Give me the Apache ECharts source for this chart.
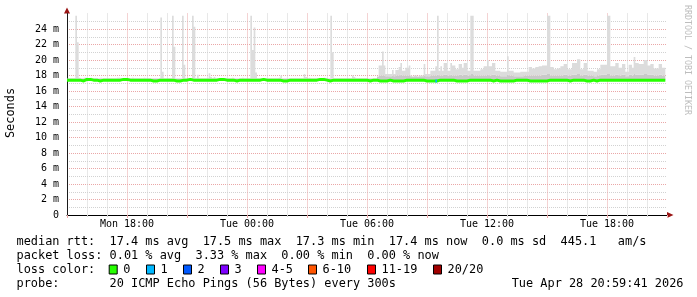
<!doctype html>
<html>
<head>
<meta charset="utf-8">
<title>smokeping</title>
<style>
html,body{margin:0;padding:0;background:#fff;}
#chart{width:697px;height:297px;}
</style>
<script src="https://cdn.jsdelivr.net/npm/echarts@6/dist/echarts.min.js"></script>
</head>
<body>
<div id="chart"></div>
<script>
// time axis in hours counted from Mon 00:00, one value every 300s
var startHour = 15, endHour = 45, stepsPerHour = 12;
var xLabelHours = [18, 24, 30, 36, 42];
var xLabelTexts = ['Mon 18:00', 'Tue 00:00', 'Tue 06:00', 'Tue 12:00', 'Tue 18:00'];

// median rtt (ms), one row per hour
var median = [
17.4,17.4,17.4,17.4,17.4,17.4,17.4,17.4,17.4,17.3,17.3,17.5,
17.5,17.5,17.4,17.4,17.4,17.4,17.3,17.3,17.4,17.4,17.4,17.4,
17.4,17.4,17.4,17.4,17.4,17.4,17.4,17.4,17.4,17.5,17.5,17.5,
17.5,17.4,17.4,17.4,17.4,17.4,17.4,17.4,17.4,17.4,17.4,17.4,
17.4,17.4,17.4,17.3,17.3,17.3,17.4,17.4,17.4,17.4,17.4,17.4,
17.4,17.4,17.4,17.4,17.4,17.3,17.3,17.3,17.4,17.4,17.4,17.4,
17.5,17.5,17.5,17.4,17.4,17.4,17.4,17.4,17.4,17.4,17.4,17.4,
17.4,17.4,17.4,17.4,17.4,17.4,17.4,17.5,17.5,17.5,17.4,17.4,
17.4,17.4,17.4,17.4,17.3,17.3,17.3,17.4,17.4,17.4,17.4,17.4,
17.4,17.4,17.4,17.4,17.4,17.4,17.4,17.4,17.4,17.5,17.5,17.4,
17.4,17.4,17.4,17.4,17.4,17.4,17.4,17.4,17.4,17.3,17.3,17.3,
17.3,17.4,17.4,17.4,17.4,17.4,17.4,17.4,17.4,17.4,17.4,17.4,
17.4,17.4,17.4,17.4,17.4,17.4,17.4,17.5,17.5,17.5,17.4,17.4,
17.4,17.3,17.4,17.4,17.4,17.4,17.4,17.4,17.4,17.4,17.4,17.4,
17.4,17.4,17.4,17.4,17.4,17.4,17.4,17.4,17.4,17.4,17.4,17.4,
17.3,17.3,17.3,17.4,17.4,17.4,17.3,17.3,17.3,17.3,17.3,17.3,
17.4,17.4,17.3,17.3,17.3,17.3,17.3,17.3,17.3,17.3,17.3,17.4,
17.4,17.4,17.4,17.4,17.4,17.4,17.4,17.4,17.4,17.4,17.4,17.3,
17.3,17.3,17.3,17.3,17.3,17.3,17.4,17.4,17.4,17.4,17.4,17.4,
17.4,17.4,17.4,17.4,17.4,17.3,17.3,17.3,17.3,17.3,17.3,17.3,
17.3,17.4,17.4,17.4,17.4,17.4,17.4,17.4,17.4,17.4,17.4,17.4,
17.4,17.4,17.3,17.3,17.3,17.4,17.4,17.3,17.3,17.3,17.3,17.3,
17.3,17.3,17.3,17.3,17.3,17.4,17.4,17.4,17.4,17.4,17.4,17.4,
17.3,17.3,17.3,17.3,17.3,17.3,17.3,17.3,17.3,17.3,17.3,17.3,
17.3,17.4,17.4,17.4,17.4,17.4,17.4,17.4,17.4,17.4,17.4,17.4,
17.3,17.3,17.3,17.4,17.4,17.4,17.4,17.4,17.4,17.4,17.3,17.3,
17.3,17.3,17.4,17.4,17.3,17.3,17.3,17.4,17.4,17.4,17.4,17.4,
17.4,17.4,17.4,17.4,17.4,17.4,17.4,17.4,17.4,17.4,17.4,17.4,
17.4,17.4,17.4,17.4,17.4,17.4,17.4,17.4,17.4,17.4,17.4,17.4,
17.4,17.4,17.4,17.4,17.4,17.4,17.4,17.4,17.4,17.4,17.4
];

// top of the dense part of the smoke (ms)
var smokeMid = [
17.6,17.6,17.6,17.6,17.6,17.6,17.6,17.6,17.6,17.6,17.6,17.6,
17.6,17.6,17.6,17.6,17.6,17.6,17.6,17.6,17.6,17.6,17.6,17.6,
17.6,17.6,17.6,17.6,17.6,17.6,17.6,17.6,17.6,17.6,17.6,17.6,
17.6,17.6,17.6,17.6,17.6,17.6,17.6,17.6,17.6,17.6,17.6,17.6,
17.6,17.6,17.6,17.6,17.6,17.6,17.6,17.6,17.6,17.6,17.6,17.6,
17.6,17.6,17.6,17.6,17.6,17.6,17.6,17.6,17.6,17.6,17.6,17.6,
17.6,17.6,17.6,17.6,17.6,17.6,17.6,17.6,17.6,17.6,17.6,17.6,
17.6,17.6,17.6,17.6,17.6,17.6,17.6,17.6,17.6,17.6,17.6,17.6,
17.6,17.6,17.6,17.6,17.6,17.6,17.6,17.6,17.6,17.6,17.6,17.6,
17.6,17.6,17.6,17.6,17.6,17.6,17.6,17.6,17.6,17.6,17.6,17.6,
17.6,17.6,17.6,17.6,17.6,17.6,17.6,17.6,17.6,17.6,17.6,17.6,
17.6,17.6,17.6,17.6,17.6,17.6,17.6,17.6,17.6,17.6,17.6,17.6,
17.6,17.6,17.6,17.6,17.6,17.6,17.6,17.6,17.6,17.6,17.6,17.6,
17.6,17.6,17.6,17.6,17.6,17.6,17.6,17.6,17.6,17.6,17.6,17.6,
17.6,17.6,17.6,17.6,17.6,17.6,17.6,17.6,17.6,17.6,17.6,17.6,
17.6,17.6,17.6,17.6,17.6,17.6,17.8,18.0,18.0,18.0,18.0,17.9,
17.9,17.9,17.9,18.0,17.9,18.0,18.0,18.0,18.1,18.0,18.0,18.0,
18.0,18.0,17.9,17.8,17.9,17.9,17.8,17.9,17.9,17.9,18.0,17.9,
17.9,17.9,18.0,18.0,18.0,18.0,18.1,18.0,18.0,18.0,18.1,18.1,
18.0,18.0,18.1,18.0,18.0,18.0,18.0,18.1,18.1,18.0,18.1,18.1,
18.0,18.0,18.2,18.2,18.0,18.0,18.0,18.0,18.0,18.0,18.0,18.0,
18.1,18.0,18.0,18.1,18.1,18.0,18.0,18.0,17.9,17.9,17.9,17.9,
18.1,18.0,18.0,18.0,17.9,17.9,17.9,17.9,17.9,17.9,18.0,18.0,
18.0,18.0,18.0,18.0,18.0,18.0,18.0,18.0,18.0,18.1,18.1,18.1,
18.2,18.2,18.0,18.0,18.0,18.0,18.0,18.0,18.0,18.0,18.1,18.1,
18.0,18.0,18.0,18.1,18.1,18.1,18.2,18.2,18.0,18.0,18.1,18.1,
18.0,18.0,18.0,18.0,17.9,17.9,18.0,18.0,18.1,18.1,18.1,18.1,
18.2,18.2,18.0,18.0,18.0,18.1,18.1,18.0,18.0,18.1,18.1,17.9,
17.9,18.1,18.1,18.0,18.2,18.1,18.1,18.1,18.1,18.1,18.2,18.2,
18.1,18.1,18.1,18.1,18.0,18.0,18.0,18.1,18.1,18.0,18.0
];

// highest ping of each step (ms)
var smokeHigh = [
17.6,17.6,17.6,17.6,17.6,25.7,22.3,17.7,17.6,17.6,17.7,17.7,
17.6,17.6,17.7,17.6,17.6,17.6,17.6,17.6,17.7,17.6,17.6,17.6,
17.6,17.6,17.6,17.6,17.6,17.6,17.7,17.7,17.6,17.6,17.6,17.6,
17.6,17.6,17.6,17.7,17.6,17.6,17.6,17.6,17.6,17.6,17.7,17.6,
17.6,17.6,17.6,17.6,17.6,17.6,17.6,17.6,25.5,18.5,17.6,17.6,
17.6,17.6,17.6,25.7,21.7,17.6,17.6,17.6,17.6,25.7,19.4,17.6,
17.6,17.6,17.6,25.7,24.3,17.6,18.1,17.6,17.6,17.6,17.6,17.6,
17.6,18.3,17.8,17.6,17.8,17.6,17.6,17.6,17.6,17.6,17.6,17.6,
17.6,17.6,17.6,17.7,17.6,17.6,17.6,17.6,17.6,17.7,17.6,17.6,
17.6,17.6,25.7,21.3,24.2,18.4,17.6,17.6,17.6,17.6,17.6,17.6,
17.6,17.6,17.6,17.6,17.6,17.6,17.6,17.7,18.0,17.6,17.6,17.6,
17.6,17.6,17.6,17.6,17.6,17.6,17.6,17.6,17.6,17.6,18.2,17.8,
17.6,17.7,17.6,17.6,17.6,17.6,17.6,17.6,17.6,17.6,17.7,17.6,
17.6,17.6,25.7,21.0,17.6,17.6,17.6,17.6,17.6,17.6,17.6,17.6,
17.6,17.6,17.6,18.0,17.8,17.6,17.6,17.6,17.6,17.6,17.6,17.6,
17.6,17.6,17.6,17.6,17.6,17.6,17.9,19.3,19.3,21.1,19.3,18.2,
18.2,18.2,18.2,18.7,18.2,18.7,18.7,19.1,19.6,18.6,18.6,19.0,
19.0,19.3,18.0,17.9,18.0,18.0,17.9,18.0,18.0,18.0,19.5,18.2,
18.2,18.2,18.6,18.6,18.6,19.2,25.7,18.6,19.2,18.6,19.6,19.6,
18.6,18.6,19.6,19.3,19.3,18.8,18.8,19.5,19.5,19.0,19.6,19.6,
18.6,18.6,25.7,25.7,18.6,18.6,18.6,18.6,18.8,18.8,19.2,19.2,
20.0,19.2,19.2,19.6,19.6,18.6,18.6,18.6,18.5,18.5,18.5,18.5,
20.5,18.6,18.6,18.6,18.4,18.4,18.4,18.4,18.5,18.5,18.5,18.5,
18.5,19.1,19.1,18.9,18.9,19.1,19.1,19.2,19.2,19.3,19.3,19.3,
25.7,25.7,19.1,19.1,18.8,18.8,18.9,18.9,19.2,19.2,19.5,19.5,
18.8,18.8,18.8,19.6,19.6,19.6,20.1,20.1,18.8,18.8,19.6,19.6,
18.6,18.6,18.6,18.6,18.5,18.5,18.8,18.8,19.4,19.4,19.4,19.4,
25.7,25.7,19.2,19.2,19.2,19.6,19.6,19.0,19.0,19.5,19.5,18.5,
18.5,19.4,19.4,19.0,20.4,19.6,19.6,19.5,19.5,19.5,20.0,20.0,
19.3,19.3,19.5,19.5,18.9,18.9,18.9,19.5,19.5,19.0,19.0
];

// steps that lost pings, and how many
var lossSteps = [221];
var lossCounts = [1];

var lossLabels = ['0', '1', '2', '3', '4-5', '6-10', '11-19', '20/20'];
var lossColors = ['#26ff00', '#00b8ff', '#0059ff', '#7e00ff', '#ff00ff', '#ff5500', '#ff0000', '#a00000'];

var statLines = [
  'median rtt:  17.4 ms avg  17.5 ms max  17.3 ms min  17.4 ms now  0.0 ms sd  445.1   am/s',
  'packet loss: 0.01 % avg  3.33 % max  0.00 % min  0.00 % now',
  'loss color:',
  'probe:       20 ICMP Echo Pings (56 Bytes) every 300s'
];
var stampText = 'Tue Apr 28 20:59:41 2026';
var vendorText = 'RRDTOOL / TOBI OETIKER';

var MONO = 'DejaVu Sans Mono';
var charW = 7.13;

function stepTime(i) { return startHour + i / stepsPerHour; }

// [time, value] pairs, the last value held until the end of its step
function pairs(vals) {
  var out = [];
  for (var i = 0; i < vals.length; i++) out.push([stepTime(i), vals[i]]);
  out.push([stepTime(vals.length), vals[vals.length - 1]]);
  return out;
}

// one smoke band = stepped polygon between a lower and an upper array
var bands = [
  { lower: median, upper: smokeMid, color: '#c9c9c9' },
  { lower: smokeMid, upper: smokeHigh, color: '#dcdcdc' }
];
function renderBand(params, api) {
  var b = bands[api.value(2)];
  var n = b.upper.length, pts = [], i;
  for (i = 0; i < n; i++) {
    pts.push(api.coord([stepTime(i), b.upper[i]]));
    pts.push(api.coord([stepTime(i + 1), b.upper[i]]));
  }
  for (i = n - 1; i >= 0; i--) {
    pts.push(api.coord([stepTime(i + 1), b.lower[i]]));
    pts.push(api.coord([stepTime(i), b.lower[i]]));
  }
  return { type: 'polygon', shape: { points: pts }, style: { fill: b.color, stroke: null } };
}

var series = [
  { type: 'custom', silent: true, renderItem: renderBand, z: 2,
    data: [[startHour, 17.4, 0], [startHour, 17.4, 1]] },
  { type: 'line', step: 'end', symbol: 'none', silent: true, z: 5,
    lineStyle: { color: lossColors[0], width: 3 }, data: pairs(median) }
];
lossSteps.forEach(function (s, k) {
  series.push({
    type: 'line', symbol: 'none', silent: true, z: 6,
    lineStyle: { color: lossColors[lossCounts[k]], width: 3 },
    data: [[stepTime(s), median[s]], [stepTime(s + 1), median[s]]]
  });
});

// text block under the plot
var graphics = [];
var rowY = [241.5, 256, 269.5, 283.5];
statLines.forEach(function (t, i) {
  graphics.push({ type: 'text', x: 16.5, y: rowY[i],
    style: { text: t, font: '11.9px "' + MONO + '"', fill: '#000', textAlign: 'left', textVerticalAlign: 'middle' } });
});
graphics.push({ type: 'text', x: 683.5, y: rowY[3],
  style: { text: stampText, font: '11.9px "' + MONO + '"', fill: '#000', textAlign: 'right', textVerticalAlign: 'middle' } });
var bx = 16.5 + 13 * charW;
lossLabels.forEach(function (lab, i) {
  graphics.push({ type: 'rect', shape: { x: bx, y: 265, width: 8, height: 9 },
    style: { fill: lossColors[i], stroke: '#000', lineWidth: 1 } });
  var tx = bx + 14;
  graphics.push({ type: 'text', x: tx, y: rowY[2],
    style: { text: lab, font: '11.9px "' + MONO + '"', fill: '#000', textAlign: 'left', textVerticalAlign: 'middle' } });
  bx = Math.round(tx + lab.length * charW + 15.5) + 0.5;
});
graphics.push({ type: 'text', x: 10.5, y: 113, rotation: Math.PI / 2,
  style: { text: 'Seconds', font: '11.9px "' + MONO + '"', fill: '#000', textAlign: 'center', textVerticalAlign: 'middle' } });
graphics.push({ type: 'text', x: 687.5, y: 60, rotation: -Math.PI / 2,
  style: { text: vendorText, font: '8.3px "' + MONO + '"', fill: '#bdbdbd', textAlign: 'center', textVerticalAlign: 'middle' } });
// axis arrows
graphics.push({ type: 'polygon', shape: { points: [[64, 13.5], [70, 13.5], [67, 7.5]] }, style: { fill: '#9a1414' } });
graphics.push({ type: 'polygon', shape: { points: [[667, 212], [667, 218], [673.5, 215]] }, style: { fill: '#9a1414' } });

var majorGrid = { show: true, lineStyle: { color: '#eaa7a7', type: [1, 1], width: 1 } };
var minorGrid = { show: true, lineStyle: { color: '#d2d2d2', type: [1, 1], width: 1 } };

var chart = echarts.init(document.getElementById('chart'), null, { renderer: 'canvas' });
chart.setOption({
  animation: false,
  backgroundColor: '#fff',
  grid: { left: 67, right: 30, top: 13.5, bottom: 82, containLabel: false, outerBoundsMode: 'none' },
  xAxis: {
    type: 'value', min: startHour, max: endHour, interval: 3,
    axisLine: { show: true, lineStyle: { color: '#000', width: 1 } },
    axisTick: { show: true, length: 3, lineStyle: { color: '#eaa7a7' } },
    minorTick: { show: true, splitNumber: 3, length: 2, lineStyle: { color: '#d2d2d2' } },
    splitLine: Object.assign({ showMinLine: false, showMaxLine: false }, majorGrid),
    minorSplitLine: minorGrid,
    axisLabel: {
      margin: 4, color: '#000', fontFamily: MONO, fontSize: 10,
      showMinLabel: true, showMaxLabel: true, hideOverlap: false,
      formatter: function (v) {
        var k = xLabelHours.indexOf(Math.round(v));
        return k >= 0 ? xLabelTexts[k] : '';
      }
    }
  },
  yAxis: {
    type: 'value', min: 0, max: 26, interval: 2,
    axisLine: { show: true, lineStyle: { color: '#1a1a1a', width: 1 } },
    axisTick: { show: false },
    minorTick: { show: false, splitNumber: 2 },
    splitLine: Object.assign({ showMinLine: false, showMaxLine: false }, majorGrid),
    minorSplitLine: minorGrid,
    axisLabel: {
      margin: 8, color: '#000', fontFamily: MONO, fontSize: 10,
      formatter: function (v) {
        if (v === 0) return '0';
        return v <= 24 ? v + ' m' : '';
      }
    }
  },
  graphic: graphics,
  series: series
});
</script>
</body>
</html>
